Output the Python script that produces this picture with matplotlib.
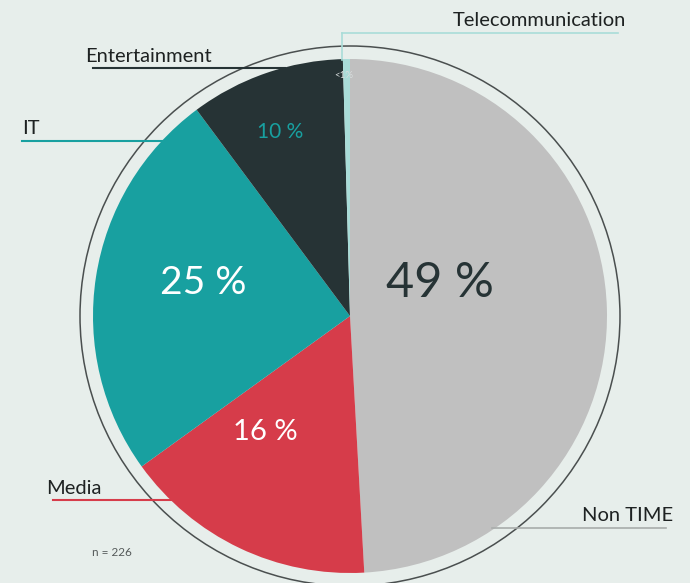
import matplotlib
matplotlib.use("Agg")
import matplotlib.pyplot as plt
from matplotlib.patches import Circle

categories = ["Non TIME", "Media", "IT", "Entertainment", "Telecommunication"]
counts = [111, 36, 56, 22, 1]
pct_labels = ["49 %", "16 %", "25 %", "10 %", "<1%"]
colors = ["#c0c0c0", "#d63c4a", "#18a0a0", "#263335", "#a9dcd8"]
n_total = 226

W, H = 690, 583
fig = plt.figure(figsize=(W / 100, H / 100), dpi=100)
bg = "#e7eeeb"
fig.patch.set_facecolor(bg)
ax = fig.add_axes([0, 0, 1, 1])

def Y(y):
    return H - y

cx, cy, r = 350, Y(316), 257
ax.pie(counts, colors=colors, startangle=90, counterclock=False,
       center=(cx, cy), radius=r, wedgeprops=dict(linewidth=0), frame=True)
ax.set_xlim(0, W)
ax.set_ylim(0, H)
ax.set_aspect("equal")
ax.axis("off")
ax.add_patch(Circle((cx, cy), 270, fill=False, edgecolor="#4a4f4f", lw=1.1, zorder=3))

font = "Lato"
pkw = dict(ha="center", va="center", family=font, weight="normal")
ax.text(440, Y(283), pct_labels[0], fontsize=35, color="#263335", **pkw)
ax.text(265, Y(432), pct_labels[1], fontsize=21, color="white", **pkw)
ax.text(203, Y(283), pct_labels[2], fontsize=28, color="white", **pkw)
ax.text(280, Y(132), pct_labels[3], fontsize=15, color="#18a0a0", **pkw)
ax.text(344, Y(76), pct_labels[4], fontsize=7, color="#d8dede", **pkw)

# category labels and leader lines
lab_kw = dict(fontsize=14.5, color="#1e2222", family=font, va="baseline")
ax.text(453, Y(26), categories[4], ha="left", **lab_kw)
ax.plot([342, 618], [Y(33), Y(33)], color="#a9dcd8", lw=1.2, zorder=4)
ax.plot([342, 342], [Y(33), Y(60)], color="#a9dcd8", lw=1.2, zorder=4)

ax.text(85, Y(62), categories[3], ha="left", **lab_kw)
ax.plot([93, 285], [Y(68), Y(68)], color="#263335", lw=1.5, zorder=4)

ax.text(22, Y(134), categories[2], ha="left", **lab_kw)
ax.plot([22, 165], [Y(141), Y(141)], color="#18a0a0", lw=1.5, zorder=4)

ax.text(46, Y(494), categories[1], ha="left", **lab_kw)
ax.plot([53, 180], [Y(500), Y(500)], color="#d63c4a", lw=1.5, zorder=4)

ax.text(673, Y(521), categories[0], ha="right", **lab_kw)
ax.plot([492, 666], [Y(528), Y(528)], color="#a8acab", lw=1.2, zorder=4)

ax.text(92, Y(552), f"n = {n_total}", fontsize=8.5, color="#555a5a", family=font,
        ha="left", va="center")

fig.savefig("out.png", dpi=100, facecolor=bg)
